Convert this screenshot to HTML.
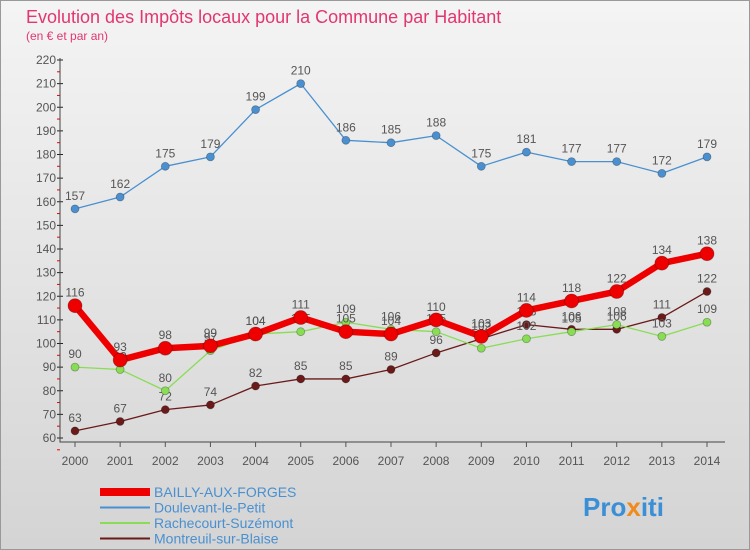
<!DOCTYPE html>
<html><head><meta charset="utf-8"><style>
body{margin:0;width:750px;height:550px;overflow:hidden;font-family:"Liberation Sans",sans-serif}
svg{display:block}
</style></head><body>
<svg id="c" width="750" height="550" xmlns="http://www.w3.org/2000/svg">
<defs><linearGradient id="bg" x1="0" y1="0" x2="0" y2="1"><stop offset="0" stop-color="#f4f4f4"/><stop offset="1" stop-color="#d4d4d4"/></linearGradient></defs>
<rect x="0.5" y="0.5" width="749" height="549" fill="url(#bg)" stroke="#999"/>
<text x="26" y="23" font-size="18" fill="#e2366f">Evolution des Impôts locaux pour la Commune par Habitant</text>
<text x="26" y="40" font-size="12" fill="#e2366f">(en € et par an)</text>
<g id="axes"></g><g id="series"></g><g id="legend"></g>
<text x="583" y="516" font-size="26" font-weight="bold" fill="#3a8fd6">Pro<tspan fill="#f08a1c">x</tspan>iti</text>
</svg>
<script>
const years=[2000,2001,2002,2003,2004,2005,2006,2007,2008,2009,2010,2011,2012,2013,2014];
const yTicks=[60,70,80,90,100,110,120,130,140,150,160,170,180,190,200,210,220];
const bailly=[116,93,98,99,104,111,105,104,110,103,114,118,122,134,138];
const doulevant=[157,162,175,179,199,210,186,185,188,175,181,177,177,172,179];
const rachecourt=[90,89,80,97,104,105,109,106,105,98,102,105,108,103,109];
const montreuil=[63,67,72,74,82,85,85,89,96,102,108,106,106,111,122];
const NS="http://www.w3.org/2000/svg";
const X=i=>75+i*(707-75)/(years.length-1);
const Y=v=>438-(v-60)*(438-60)/160;
function mk(p,t,a){const e=document.createElementNS(NS,t);for(const k in a)e.setAttribute(k,a[k]);p.appendChild(e);return e;}
const axes=document.getElementById('axes'),ser=document.getElementById('series'),leg=document.getElementById('legend');
yTicks.forEach(v=>{
 const t=mk(axes,'text',{x:56,y:Y(v)+4,'font-size':12,fill:'#555','text-anchor':'end'});t.textContent=v;
 
 
 const k=mk(axes,'line',{x1:57,x2:63,y1:Y(v),y2:Y(v),stroke:'#222'});
 
 
 const m=mk(axes,'line',{x1:57,x2:60,y1:Y(v)+11.8,y2:Y(v)+11.8,stroke:'#e00'});
 
 
});
const ax=mk(axes,'path',{d:'M60,58V442H725',stroke:'#444',fill:'none'});


years.forEach((y,i)=>{
 const t=mk(axes,'text',{x:X(i),y:465,'font-size':12,fill:'#555','text-anchor':'middle'});t.textContent=y;
 
 
 const k=mk(axes,'line',{x1:X(i),x2:X(i),y1:442,y2:447,stroke:'#555'});
 
 
});
const S=[
 {d:montreuil,c:'#6b1a1a',w:1.3,r:4,n:'montreuil'},
 {d:rachecourt,c:'#88dd55',w:1.3,r:4,n:'rachecourt'},
 {d:doulevant,c:'#4a90d0',w:1.3,r:4,n:'doulevant'},
 {d:bailly,c:'#ee0000',w:6.5,r:7,n:'bailly'}];
S.forEach(s=>{
 const g=mk(ser,'g',{});
 
 
 const p=mk(g,'polyline',{points:s.d.map((v,i)=>X(i)+','+Y(v)).join(' '),fill:'none',stroke:s.c,'stroke-width':s.w,'stroke-linejoin':'round'});
 
 
 s.d.forEach((v,i)=>{
  const c=mk(g,'circle',{cx:X(i),cy:Y(v),r:s.r,fill:s.c,stroke:'rgba(0,0,0,0.3)','stroke-width':0.8});
  
  
  const t=mk(g,'text',{x:X(i),y:Y(v)-9,'font-size':12,fill:'#555','text-anchor':'middle'});t.textContent=v;
  
  
 });
});
const L=[['BAILLY-AUX-FORGES','#ee0000',8],['Doulevant-le-Petit','#4a90d0',2],['Rachecourt-Suzémont','#88dd55',2],['Montreuil-sur-Blaise','#6b1a1a',2]];
L.forEach((e,i)=>{
 const y=492+i*15.5;
 const l=mk(leg,'line',{x1:100,x2:150,y1:y,y2:y,stroke:e[1],'stroke-width':e[2]});
 
 
 const t=mk(leg,'text',{x:154,y:y+5,'font-size':14,fill:'#4a90d0'});t.textContent=e[0];
 
 
});
</script>
</body></html>
